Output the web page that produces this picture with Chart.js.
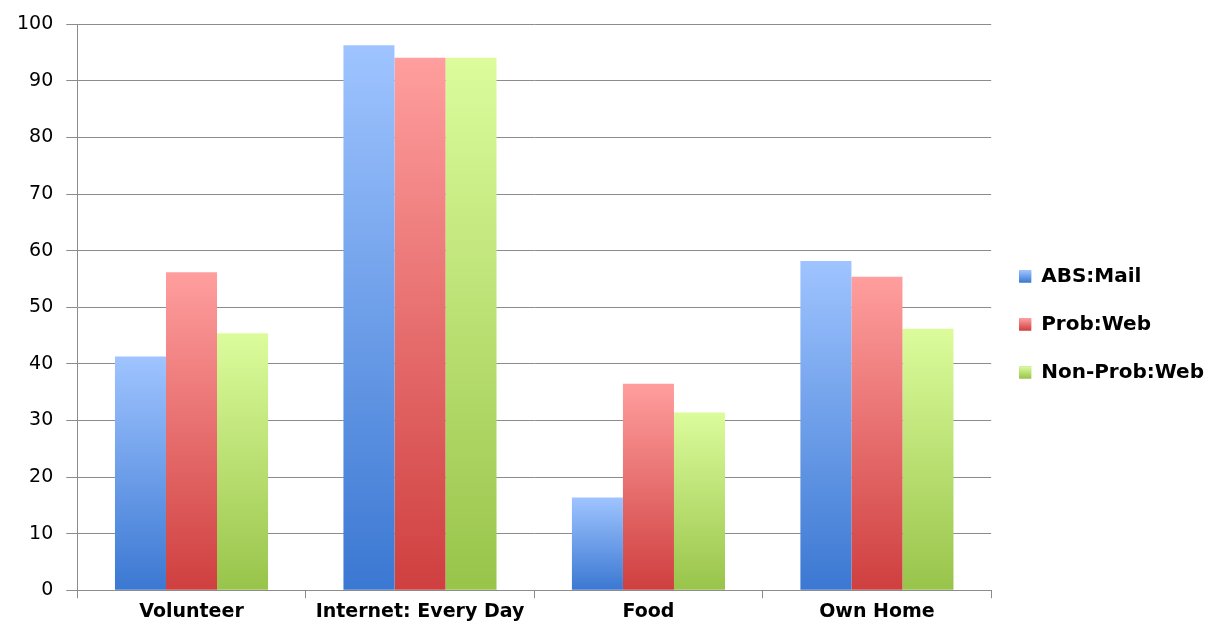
<!DOCTYPE html>
<html>
<head>
<meta charset="utf-8">
<script src="https://cdn.jsdelivr.net/npm/chart.js@4"></script>
<style>
  html, body { margin: 0; padding: 0; background: #fff; }
  #wrap { width: 1224px; height: 637px; }
</style>
</head>
<body>
<div id="wrap"><canvas id="chart"></canvas></div>
<script>
// data
const categories = ["Volunteer", "Internet: Every Day", "Food", "Own Home"];
const absMail = [41.3, 96.3, 16.4, 58.2];
const probWeb = [56.2, 94.1, 36.5, 55.4];
const nonProbWeb = [45.4, 94.1, 31.4, 46.2];
const yTicks = [0, 10, 20, 30, 40, 50, 60, 70, 80, 90, 100];

// top / bottom colours of each bar's gradient
const shades = [
  ["#9fc4ff", "#3b78d2"],
  ["#ff9e9e", "#cf3f3f"],
  ["#dcfc9c", "#98c44a"]
];

const barFill = (idx) => (ctx) => {
  const chart = ctx.chart;
  if (!chart.chartArea || !chart.scales.y) return shades[idx][0];
  const v = ctx.parsed ? ctx.parsed.y : 0;
  const y = chart.scales.y;
  const top = y.getPixelForValue(v);
  const bot = y.getPixelForValue(0);
  if (!isFinite(top) || top === bot) return shades[idx][0];
  const g = chart.ctx.createLinearGradient(0, top, 0, bot);
  g.addColorStop(0, shades[idx][0]);
  g.addColorStop(1, shades[idx][1]);
  return g;
};

const mkSet = (label, data, idx) => ({
  label: label,
  data: data,
  backgroundColor: barFill(idx),
  borderWidth: 0,
  categoryPercentage: 0.67,
  barPercentage: 1.0
});

const data = {
  labels: categories,
  datasets: [
    mkSet("ABS:Mail", absMail, 0),
    mkSet("Prob:Web", probWeb, 1),
    mkSet("Non-Prob:Web", nonProbWeb, 2)
  ]
};

// repaint legend boxes with the same gradient as the bars
const legendBoxes = {
  id: "legendBoxes",
  afterDraw(chart) {
    const lg = chart.legend;
    if (!lg || !lg.legendHitBoxes) return;
    const c = chart.ctx;
    const bw = 12, bh = 12;
    lg.legendHitBoxes.forEach((hb, i) => {
      const top = hb.top + (hb.height - bh) / 2;
      const g = c.createLinearGradient(0, top, 0, top + bh);
      g.addColorStop(0, shades[i][0]);
      g.addColorStop(1, shades[i][1]);
      c.save();
      c.fillStyle = g;
      c.fillRect(hb.left, top, bw, bh);
      c.restore();
    });
  }
};

const config = {
  type: "bar",
  data: data,
  options: {
    responsive: true,
    maintainAspectRatio: false,
    animation: false,
    layout: { padding: { top: 24, right: 10, left: 4, bottom: 12 } },
    scales: {
      x: {
        grid: { display: true, drawOnChartArea: false, drawTicks: true, tickLength: 8, color: "#8c8c8c", lineWidth: 1 },
        border: { display: true, color: "#8c8c8c", width: 1 },
        ticks: {
          color: "#000",
          font: { family: "DejaVu Sans", size: 19, weight: "bold" },
          padding: 2,
          maxRotation: 0,
          minRotation: 0,
          autoSkip: false
        }
      },
      y: {
        min: 0,
        max: 100,
        afterBuildTicks: (axis) => { axis.ticks = yTicks.map(v => ({ value: v })); },
        grid: { color: "#8c8c8c", lineWidth: 1, drawTicks: true, tickLength: 11 },
        border: { display: true, color: "#8c8c8c", width: 1 },
        ticks: { color: "#000", font: { family: "DejaVu Sans", size: 19 }, padding: 13 }
      }
    },
    plugins: {
      tooltip: { enabled: false },
      legend: {
        position: "right",
        align: "center",
        labels: {
          color: "#000",
          font: { family: "DejaVu Sans", size: 20, weight: "bold" },
          boxWidth: 12,
          boxHeight: 12,
          padding: 28,
          generateLabels: (chart) => chart.data.datasets.map((ds, i) => ({
            text: ds.label,
            fillStyle: shades[i][1],
            strokeStyle: "rgba(0,0,0,0)",
            lineWidth: 0,
            datasetIndex: i
          }))
        }
      }
    }
  },
  plugins: [legendBoxes]
};

new Chart(document.getElementById("chart"), config);
</script>
</body>
</html>
